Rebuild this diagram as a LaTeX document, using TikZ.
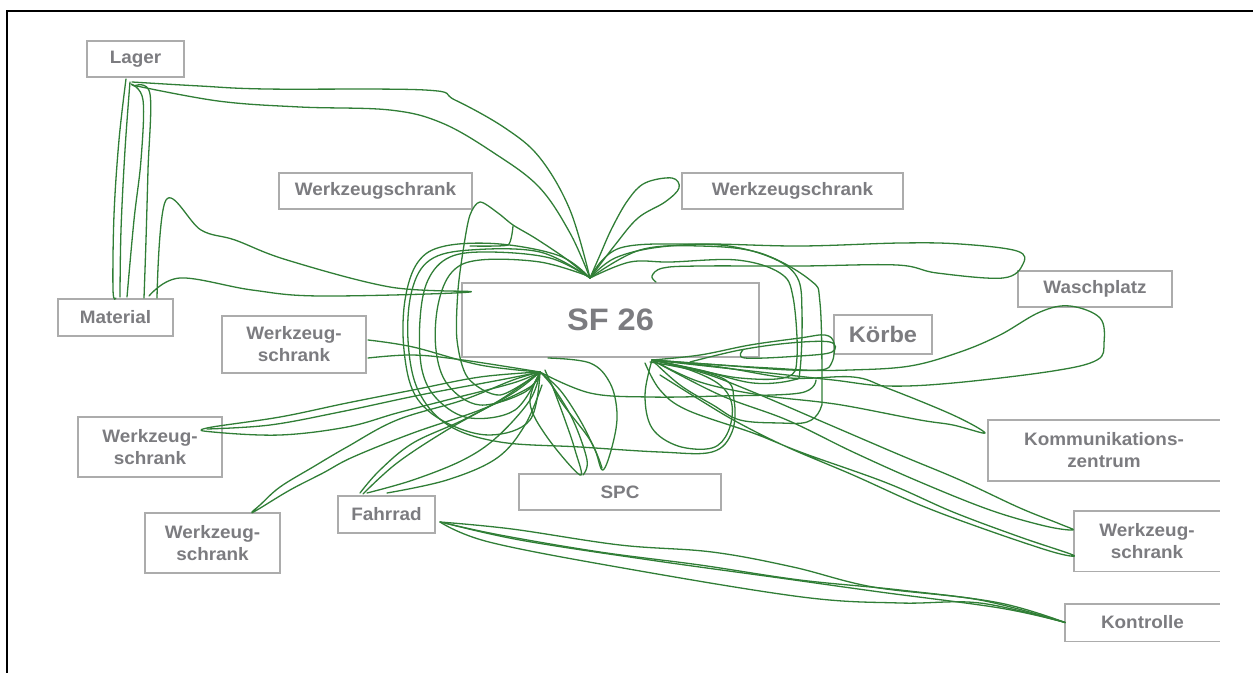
\documentclass[tikz,border=0pt]{standalone}
\usepackage{fontspec}
\setmainfont{Liberation Sans}[FakeStretch=1.05]
\definecolor{trail}{RGB}{48,126,54}
\definecolor{labelgray}{RGB}{124,124,128}
\definecolor{framegray}{RGB}{172,172,172}
\begin{document}
\begin{tikzpicture}[x=1pt,y=-1pt,
  boxline/.style={draw=framegray, line width=1.6pt},
  station/.style={boxline, fill=white, text=labelgray, align=center, inner sep=0pt,
    font=\bfseries\fontsize{18}{22}\selectfont},
  openstation/.style={station, draw=none},
  path/.style={draw=trail, line width=1.3pt, line join=round, line cap=round},
]
\useasboundingbox (0,0) rectangle (1253,673);

% outer frame (top and left edges)
\coordinate (frameTL) at (7,11);
\coordinate (frameTR) at (1253,11);
\coordinate (frameBL) at (7,673);
\draw[line width=2.4pt] (frameTR) -- (frameTL) -- (frameBL);

% stations
\node[station, minimum width=97pt, minimum height=36pt] (lager) at (135.5,59) {Lager};
\node[station, minimum width=115pt, minimum height=37pt] (material) at (115.5,317.5) {Material};
\node[station, minimum width=193pt, minimum height=36pt] (wzTL) at (375.5,191) {Werkzeugschrank};
\node[station, minimum width=221pt, minimum height=36pt] (wzTR) at (792.5,191) {Werkzeugschrank};
\node[station, minimum width=297pt, minimum height=74pt, font=\bfseries\fontsize{31}{36}\selectfont] (sf) at (610.5,320) {SF 26};
\node[station, minimum width=154pt, minimum height=36pt] (wasch) at (1095,289) {Waschplatz};
\node[station, minimum width=98pt, minimum height=39pt, font=\bfseries\fontsize{22.5}{26}\selectfont] (koerbe) at (883,334.5) {Körbe};
\node[station, minimum width=144pt, minimum height=57pt] (wzLM) at (294,344.5) {Werkzeug-\\schrank};
\node[station, minimum width=144pt, minimum height=60pt] (wzL) at (150,447) {Werkzeug-\\schrank};
\node[station, minimum width=135pt, minimum height=60pt] (wzLL) at (212.5,543) {Werkzeug-\\schrank};
\node[station, minimum width=97pt, minimum height=37pt] (fahrrad) at (386.5,514.5) {Fahrrad};
\node[station, minimum width=202pt, minimum height=36pt] (spc) at (620,492) {SPC};
\node[openstation, minimum width=230pt, minimum height=59pt] (komm) at (1104,450.5) {Kommunikations-\\zentrum};
\node[openstation, minimum width=144pt, minimum height=59pt] (wzR) at (1147,541) {Werkzeug-\\schrank};
\node[openstation, minimum width=153pt, minimum height=36pt] (kontrolle) at (1142.5,622.5) {Kontrolle};
\foreach \n in {komm,wzR,kontrolle}
  \draw[boxline] (\n.north east) -- (\n.north west) -- (\n.south west) -- (\n.south east);

% meeting points of the walking paths
\coordinate (hubT) at (590,278);
\coordinate (hubB) at (540,372);
\coordinate (hubR) at (652,360);

% Lager <-> Material
\draw[path] plot[smooth, tension=0.6] coordinates {(126,79) (119,140) (114,215) (113,290) (116,298)};
\draw[path] plot[smooth, tension=0.6] coordinates {(130,82) (125,150) (121,230) (120,297)};
\draw[path] plot[smooth, tension=0.6] coordinates {(131,84) (143,100) (141,160) (134,220) (127,297)};
\draw[path] plot[smooth, tension=0.6] coordinates {(134,86) (150,94) (148,170) (146,240) (144,298)};

% Lager <-> SF 26
\draw[path] plot[smooth, tension=0.6] coordinates {(132,82) (200,86) (266,89) (425,90) (455,100) (505,128) (540,158) (570,210) (hubT)};
\draw[path] plot[smooth, tension=0.6] coordinates {(132,85) (218,101) (300,107) (390,110) (442,123) (494,153) (539,187) (570,233) (hubT)};

% Material <-> SF 26
\draw[path] plot[smooth, tension=0.6] coordinates {(157,298) (166,200) (201,230) (235,240) (287,260) (390,287) (470,292) (321,296) (252,290) (180,278) (149,296)};

% loops round the left of SF 26
\draw[path] plot[smooth, tension=0.6] coordinates {(hubT) (560,256) (500,244) (445,246) (418,262) (405,300) (404,350) (415,395) (445,422) (490,435) (530,420) (hubB)};
\draw[path] plot[smooth, tension=0.6] coordinates {(hubT) (550,258) (490,252) (450,257) (428,280) (420,320) (422,370) (438,400) (470,418) (515,410) (hubB)};
\draw[path] plot[smooth, tension=0.6] coordinates {(588,276) (540,262) (480,260) (452,272) (438,305) (436,350) (448,385) (480,405) (525,392) (hubB)};
\draw[path] plot[smooth, tension=0.5] coordinates {(hubT) (565,258) (535,238) (513,225) (498,213) (480,202) (470,215) (464,245) (458,290) (457,340) (468,378) (500,395) (hubB)};
\draw[path] plot[smooth, tension=0.3] coordinates {(513,226) (508,245) (470,246)};
\draw[path] plot[smooth, tension=0.6] coordinates {(hubT) (540,252) (470,250) (430,260) (412,290) (408,340) (418,390) (448,425) (500,442) (580,447) (660,452) (712,452) (732,432) (734,400) (722,378) (hubR)};

% loops round the right of SF 26
\draw[path] plot[smooth, tension=0.6] coordinates {(hubT) (615,258) (660,247) (720,245) (770,257) (797,277) (802,313) (800,370) (793,380) (753,383) (700,370) (hubR)};
\draw[path] plot[smooth, tension=0.6] coordinates {(hubT) (630,262) (670,262) (737,260) (780,273) (793,297) (797,357) (787,377) (740,378) (690,368) (hubR)};
\draw[path] plot[smooth, tension=0.6] coordinates {(hubT) (640,250) (700,246) (760,253) (810,280) (820,303) (822,390) (820,410) (807,422) (780,423) (740,420) (713,405) (680,385) (hubR)};
\draw[path] plot[smooth, tension=0.6] coordinates {(hubB) (590,393) (650,397) (720,396) (800,393) (816,380)};
\draw[path] plot[smooth, tension=0.6] coordinates {(hubR) (645,395) (652,428) (678,446) (712,448) (728,432) (732,405) (720,385) (690,370) (hubR)};

% Werkzeugschrank (top right)
\draw[path] plot[smooth, tension=0.6] coordinates {(hubT) (600,255) (612,228) (628,200) (645,183) (672,178) (679,188) (665,202) (638,218) (615,245) (hubT)};

% Waschplatz
\draw[path] plot[smooth, tension=0.6] coordinates {(hubT) (620,248) (700,244) (800,246) (900,243) (960,244) (1017,251) (1023,264) (1003,278) (937,273) (897,265) (800,266) (700,266) (663,268) (652,276) (656,282)};
\draw[path] plot[smooth, tension=0.6] coordinates {(hubR) (720,365) (790,370) (850,370) (910,366) (960,352) (1000,335) (1040,312) (1070,306) (1100,318) (1104,343) (1097,360) (1053,371) (953,383) (887,386) (833,380) (760,372) (hubR)};

% Körbe
\draw[path] plot[smooth, tension=0.6] coordinates {(hubR) (700,355) (750,345) (800,338) (825,335) (834,343) (832,362) (820,370) (770,368) (720,365) (hubR)};
\draw[path] plot[smooth, tension=0.6] coordinates {(690,362) (740,350) (790,343) (830,342) (832,352) (800,356) (745,358) (743,350)};

% Kommunikationszentrum
\draw[path] plot[smooth, tension=0.6] coordinates {(hubR) (720,367) (790,378) (853,377) (887,388) (953,415) (985,433) (953,425) (920,420) (853,407) (820,402) (760,395) (700,382) (hubR)};

% Werkzeugschrank (right)
\draw[path] plot[smooth, tension=0.6] coordinates {(650,362) (700,372) (753,392) (830,425) (900,455) (960,480) (1020,508) (1060,524) (1073,530) (1045,526) (990,510) (920,482) (853,452) (787,420) (720,395) (hubR)};
\draw[path] plot[smooth, tension=0.6] coordinates {(645,363) (660,390) (687,410) (753,433) (803,453) (887,483) (953,512) (1020,537) (1073,555) (1053,552) (987,530) (920,505) (853,475) (787,447) (737,422) (700,400) (660,375)};

% SPC
\draw[path] plot[smooth, tension=0.6] coordinates {(548,358) (590,363) (610,383) (617,413) (613,443) (603,470) (595,450) (580,420) (560,390) (hubB)};
\draw[path] plot[smooth, tension=0.6] coordinates {(hubB) (530,403) (547,437) (580,475) (575,450) (565,420) (552,385)};
\draw[path] plot[smooth, tension=0.6] coordinates {(hubB) (553,387) (573,420) (587,460) (583,475)};
\draw[path] plot[smooth, tension=0.6] coordinates {(545,370) (560,400) (590,440) (602,468)};

% Werkzeugschrank (left, middle)
\draw[path] plot[smooth, tension=0.6] coordinates {(368,340) (413,347) (480,365) (hubB)};
\draw[path] plot[smooth, tension=0.6] coordinates {(368,358) (413,355) (463,360) (hubB)};

% Werkzeugschrank (left)
\draw[path] plot[smooth, tension=0.6] coordinates {(hubB) (480,377) (413,390) (347,403) (280,417) (207,428) (213,432) (280,435) (347,427) (397,413) (447,400) (513,383) (hubB)};
\draw[path] plot[smooth, tension=0.6] coordinates {(207,429) (270,425) (340,412) (420,395) (500,380) (hubB)};

% Werkzeugschrank (lower left)
\draw[path] plot[smooth, tension=0.6] coordinates {(hubB) (513,380) (463,400) (397,420) (347,447) (313,467) (280,487) (260,505) (252,512) (257,510) (290,490) (323,473) (353,457) (413,433) (480,410) (530,387) (hubB)};

% Fahrrad
\draw[path] plot[smooth, tension=0.6] coordinates {(360,493) (380,470) (413,443) (463,420) (513,393) (hubB)};
\draw[path] plot[smooth, tension=0.6] coordinates {(367,493) (413,480) (463,460) (497,437) (530,400) (hubB)};
\draw[path] plot[smooth, tension=0.6] coordinates {(387,493) (447,480) (497,458) (525,425) (542,385)};
\draw[path] plot[smooth, tension=0.6] coordinates {(363,494) (397,463) (447,430) (500,400) (hubB)};

% Fahrrad <-> Kontrolle
\draw[path] plot[smooth, tension=0.6] coordinates {(440,522) (512,529) (620,545) (712,552) (793,567) (873,587) (980,600) (kontrolle.west)};
\draw[path] plot[smooth, tension=0.6] coordinates {(440,522) (489,542) (623,568) (802,597) (900,603) (980,603) (kontrolle.west)};
\draw[path] plot[smooth, tension=0.6] coordinates {(440,522) (500,535) (600,552) (700,565) (800,580) (900,590) (1000,603) (kontrolle.west)};
\draw[path] plot[smooth, tension=0.6] coordinates {(445,523) (520,540) (650,560) (780,578) (880,592) (1000,608) (kontrolle.west)};
\end{tikzpicture}
\end{document}
